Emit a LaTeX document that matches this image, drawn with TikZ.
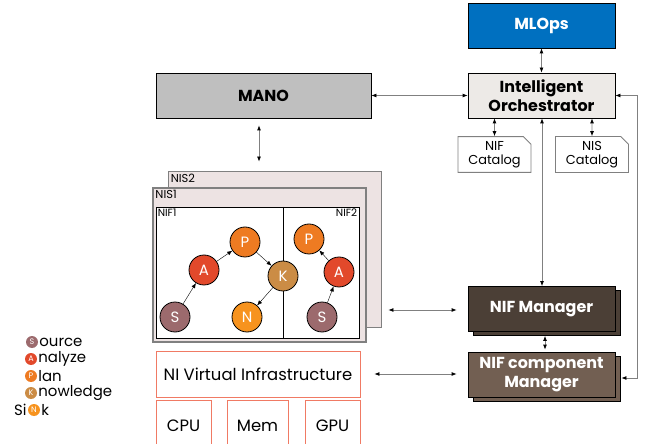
\documentclass[tikz,border=0pt]{standalone}
\usepackage{fontspec}
\setmainfont{Poppins}
\usepackage{tikz}
\usetikzlibrary{arrows.meta,shadows,shapes.misc}

\definecolor{mlblue}{HTML}{0070C0}
\definecolor{orchgray}{HTML}{EDEAE7}
\definecolor{manogray}{HTML}{BFBFBF}
\definecolor{mgrdark}{HTML}{4B3F36}
\definecolor{mgrlight}{HTML}{725F52}
\definecolor{nispink}{HTML}{EDE3E3}
\definecolor{infrared}{HTML}{F07A64}
\definecolor{colS}{HTML}{9C6A6D}
\definecolor{colA}{HTML}{E2492B}
\definecolor{colP}{HTML}{EE7B22}
\definecolor{colK}{HTML}{CB8C45}
\definecolor{colN}{HTML}{F7931E}

\begin{document}
\begin{tikzpicture}[x=1bp,y=-1bp]

	\tikzset{block/.style = {draw=black, thick, minimum width=147bp, minimum height=45bp, font=\bfseries\fontsize{16}{19}\selectfont, align=center}}
	\tikzset{mgr/.style = {block, text=white, copy shadow={shadow xshift=5bp, shadow yshift=-4bp}}}
	\tikzset{catalog/.style = {draw=gray, thick, fill=white, chamfered rectangle, chamfered rectangle corners=north east, chamfered rectangle xsep=4bp, minimum width=73bp, minimum height=32bp, inner sep=1pt, font=\fontsize{13}{14}\selectfont, align=center}}
	\tikzset{infra/.style = {draw=infrared, thick, fill=white, font=\fontsize{16.5}{18}\selectfont}}
	\tikzset{fn/.style = {shape=circle, draw, thick, fill=#1, minimum size=30bp, inner sep=0pt, text=white, font=\fontsize{15}{15}\selectfont}}
	\tikzset{lg/.style = {shape=circle, fill=#1, minimum size=12bp, inner sep=0pt, text=white, font=\fontsize{8}{8}\selectfont}}
	\tikzset{tag/.style = {font=\fontsize{11.5}{13}\selectfont, inner sep=3bp}}
	\tikzset{edge/.style = {->, >={Latex[length=5bp,width=4bp]}}}
	\tikzset{conn/.style = {<->, draw=gray, thick, >={Latex[black,length=5bp,width=4bp]}}}

	\clip (0,0) rectangle (646,444);

	% top
	\node[block, fill=mlblue, text=white] (mlops) at (541.5,25.5) {MLOps};
	\node[block, fill=orchgray] (orch) at (541.5,95.5) {Intelligent\\Orchestrator};
	\node[block, fill=manogray, minimum width=215bp] (mano) at (263.5,95.5) {MANO};
	\node[catalog] (nifcat) at (494.5,154.5) {NIF\\Catalog};
	\node[catalog] (niscat) at (592,154.5) {NIS\\Catalog};

	% managers
	\node[mgr, fill=mgrdark] (nifman) at (541.5,309) {NIF Manager};
	\node[mgr, fill=mgrlight] (nifcman) at (541.5,374.5) {NIF component\\Manager};

	% slices
	\node[draw=gray, thick, fill=nispink, minimum width=213bp, minimum height=156bp] (nis2) at (274.5,249) {};
	\node[tag, anchor=north west] at (nis2.north west) {NIS2};
	\node[draw=black!50, line width=1.5bp, fill=nispink, minimum width=213bp, minimum height=154bp] (nis1) at (259.5,265) {};
	\node[tag, anchor=north west] at (nis1.north west) {NIS1};
	\node[draw, thick, fill=white, minimum width=203bp, minimum height=131bp] (nifs) at (257.5,272.5) {};
	\draw[thick] (283,207) -- (283,338);
	\node[tag, anchor=north west, font=\fontsize{10.5}{12}\selectfont, inner sep=2bp] at (nifs.north west) {NIF1};
	\node[tag, anchor=north east, font=\fontsize{10.5}{12}\selectfont, inner sep=2bp] at (nifs.north east) {NIF2};

	% NIF1 loop
	\node[fn=colS] (s1) at (175,317) {S};
	\node[fn=colA] (a1) at (204,270) {A};
	\node[fn=colP] (p1) at (245,242) {P};
	\node[fn=colK] (k) at (283,276) {K};
	\node[fn=colN] (n1) at (247,317) {N};
	\draw[edge] (s1) to (a1);
	\draw[edge] (a1) to (p1);
	\draw[edge] (p1) to (k);
	\draw[edge] (k) to (n1);

	% NIF2 loop
	\node[fn=colP] (p2) at (309,239) {P};
	\node[fn=colA] (a2) at (339,272) {A};
	\node[fn=colS] (s2) at (322,317) {S};
	\draw[edge] (s2) to (a2);
	\draw[edge] (a2) to (p2);

	% infrastructure
	\node[infra, minimum width=204bp, minimum height=46bp] (nivi) at (258,374) {NI Virtual Infrastructure};
	\node[infra, minimum width=55bp, minimum height=52bp, text depth=0pt] (cpu) at (183.5,426) {CPU};
	\node[infra, minimum width=61bp, minimum height=52bp, text depth=0pt] (mem) at (257.5,426) {Mem};
	\node[infra, minimum width=55bp, minimum height=52bp, text depth=0pt] (gpu) at (332.5,426) {GPU};

	% connectors
	\draw[conn] (mlops) -- (orch);
	\draw[conn] (mano) -- (orch);
	\draw[conn, shorten <=7bp, shorten >=9bp] (mano.south -| 259,0) -- (nis2.north -| 259,0);
	\draw[conn] (orch.south -| nifcat) -- (nifcat);
	\draw[conn] (orch.south -| niscat) -- (niscat);
	\draw[conn] (orch.south -| 542,0) -- (nifman.north -| 542,0);
	\coordinate (ret) at (637,378);
	\draw[conn] (orch.east) -| (ret) -- ([xshift=6bp]nifcman.east |- ret);
	\draw[conn, shorten <=4bp, shorten >=2bp] (nifman.south -| 545,0) -- (nifcman.north -| 545,0);
	\draw[conn, shorten <=7bp, shorten >=11bp] (nis2.east |- 0,310) -- (nifman.west |- 0,310);
	\draw[conn, shorten <=14bp, shorten >=11bp] (nivi) -- (nifcman.west |- nivi);

	% legend
	\begin{scope}[every node/.append style={font=\fontsize{15}{16}\selectfont, inner sep=0pt}]
		\node[lg=colS] (ls) at (32,342) {S};
		\node[anchor=west] at ([xshift=1bp]ls.east) {ource};
		\node[lg=colA] (la) at (31,359) {A};
		\node[anchor=west] at ([xshift=1bp]la.east) {nalyze};
		\node[lg=colP] (lp) at (31,376) {P};
		\node[anchor=west] at ([xshift=1bp]lp.east) {lan};
		\node[lg=colK] (lk) at (31,393) {K};
		\node[anchor=west] at ([xshift=1bp]lk.east) {nowledge};
		\node[lg=colN] (ln) at (34,410) {N};
		\node[anchor=east] at ([xshift=-1bp]ln.west) {Si};
		\node[anchor=west] at ([xshift=1bp]ln.east) {k};
	\end{scope}

\end{tikzpicture}
\end{document}
